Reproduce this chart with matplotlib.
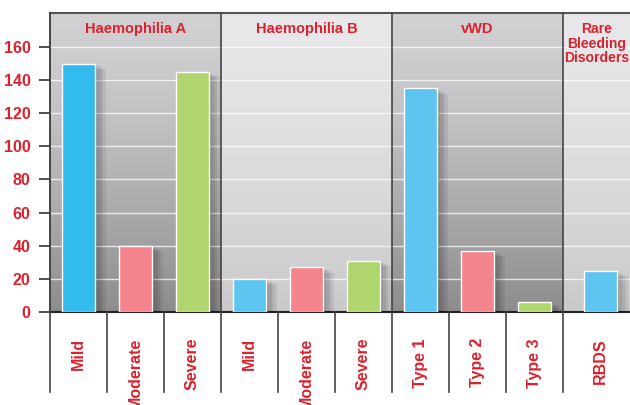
import numpy as np
import matplotlib
matplotlib.use("Agg")
import matplotlib.pyplot as plt
import matplotlib.patheffects as pe

# data
groups = ["Haemophilia A", "Haemophilia B", "vWD", "Rare\nBleeding\nDisorders"]
group_sizes = [3, 3, 3, 1]
categories = ["Mild", "Moderate", "Severe",
              "Mild", "Moderate", "Severe",
              "Type 1", "Type 2", "Type 3",
              "RBDS"]
values = [150, 40, 145, 20, 27, 31, 135, 37, 6, 25]
bar_colors = ["#33bbee", "#f4858f", "#b0d46e",
              "#5ec4f0", "#f4858f", "#b0d46e",
              "#5ec4f0", "#f4858f", "#b0d46e",
              "#5ec4f0"]
yticks = [0, 20, 40, 60, 80, 100, 120, 140, 160]

red = "#d9222e"
plt.rcParams["font.family"] = ["Liberation Sans Narrow", "Liberation Sans", "DejaVu Sans"]

# last slot is a bit wider in the original
slot_w = np.array([1.0] * 9 + [1.3])
edges = np.concatenate([[-0.5], -0.5 + np.cumsum(slot_w)])
pos = (edges[:-1] + edges[1:]) / 2
idx = np.concatenate([[0], np.cumsum(group_sizes)])
g_edges = [edges[i] for i in idx]
ymax = 180.5
xmax = edges[-2] + 67 / 57  # chart is cropped at the right edge

fig = plt.figure(figsize=(6.3, 4.05), dpi=100)
ax = fig.add_axes([50 / 630, 93 / 405, 580 / 630, 299 / 405])

# group backgrounds (vertical gradients)
dark_bg = [(0.82, 0.82, 0.83), (0.55, 0.55, 0.55)]
light_bg = [(0.91, 0.91, 0.92), (0.79, 0.79, 0.79)]
t = np.linspace(0, 1, 256)
for k in range(len(groups)):
    top, bot = dark_bg if k % 2 == 0 else light_bg
    img = np.zeros((256, 1, 3))
    for c in range(3):
        img[:, 0, c] = top[c] + (bot[c] - top[c]) * t ** 1.4
    ax.imshow(img, extent=[g_edges[k], min(g_edges[k + 1], xmax), 0, ymax],
              aspect="auto", zorder=0, interpolation="bilinear")

ax.set_xlim(-0.5, xmax)
ax.set_ylim(0, ymax)

# grid
for v in yticks[1:]:
    ax.axhline(v, color="white", lw=1.0, alpha=0.75, zorder=1)

bars = ax.bar(pos, values, width=0.58, color=bar_colors, edgecolor="white",
              linewidth=1.0, zorder=3)
shadow = [pe.SimplePatchShadow(offset=(o, -o / 2), shadow_rgbFace="black", alpha=0.07)
          for o in (2, 4, 6, 8)]
for b in bars:
    b.set_path_effects(shadow + [pe.Normal()])

# group labels
for k, name in enumerate(groups):
    cx = (g_edges[k] + min(g_edges[k + 1], xmax)) / 2
    ax.text(cx, ymax - 5.5, name, ha="center", va="top", color=red,
            fontsize=10.5 if k < 3 else 10, fontweight="bold",
            linespacing=1.05, zorder=5)

ax.set_yticks(yticks)
ax.set_yticklabels([str(v) for v in yticks], color=red, fontsize=11.5, fontweight="bold")
ax.tick_params(axis="y", length=8, width=1.2, color="#333333", pad=6)
ax.set_xticks([])
ax.spines["right"].set_visible(False)
ax.spines["top"].set_color("#555555")
ax.spines["top"].set_linewidth(1.5)
ax.spines["left"].set_color("#444444")
ax.spines["left"].set_linewidth(1.2)
ax.spines["bottom"].set_color("#222222")
ax.spines["bottom"].set_linewidth(1.5)

# vertical separators: group lines full height, slot lines below the axis
trans = ax.get_xaxis_transform()
for e in edges[:-1]:
    y1 = 1.0 if e in g_edges else 0.0
    ax.plot([e, e], [-80 / 299, y1], transform=trans, color="#444444",
            lw=1.2, clip_on=False, zorder=6)

# category labels
for p, lab in zip(pos, categories):
    ax.text(p, -26 / 299, lab, transform=trans, rotation=90, ha="center",
            va="top", color=red, fontsize=11.5, fontweight="bold", clip_on=False)

fig.savefig("out.png", dpi=100)
